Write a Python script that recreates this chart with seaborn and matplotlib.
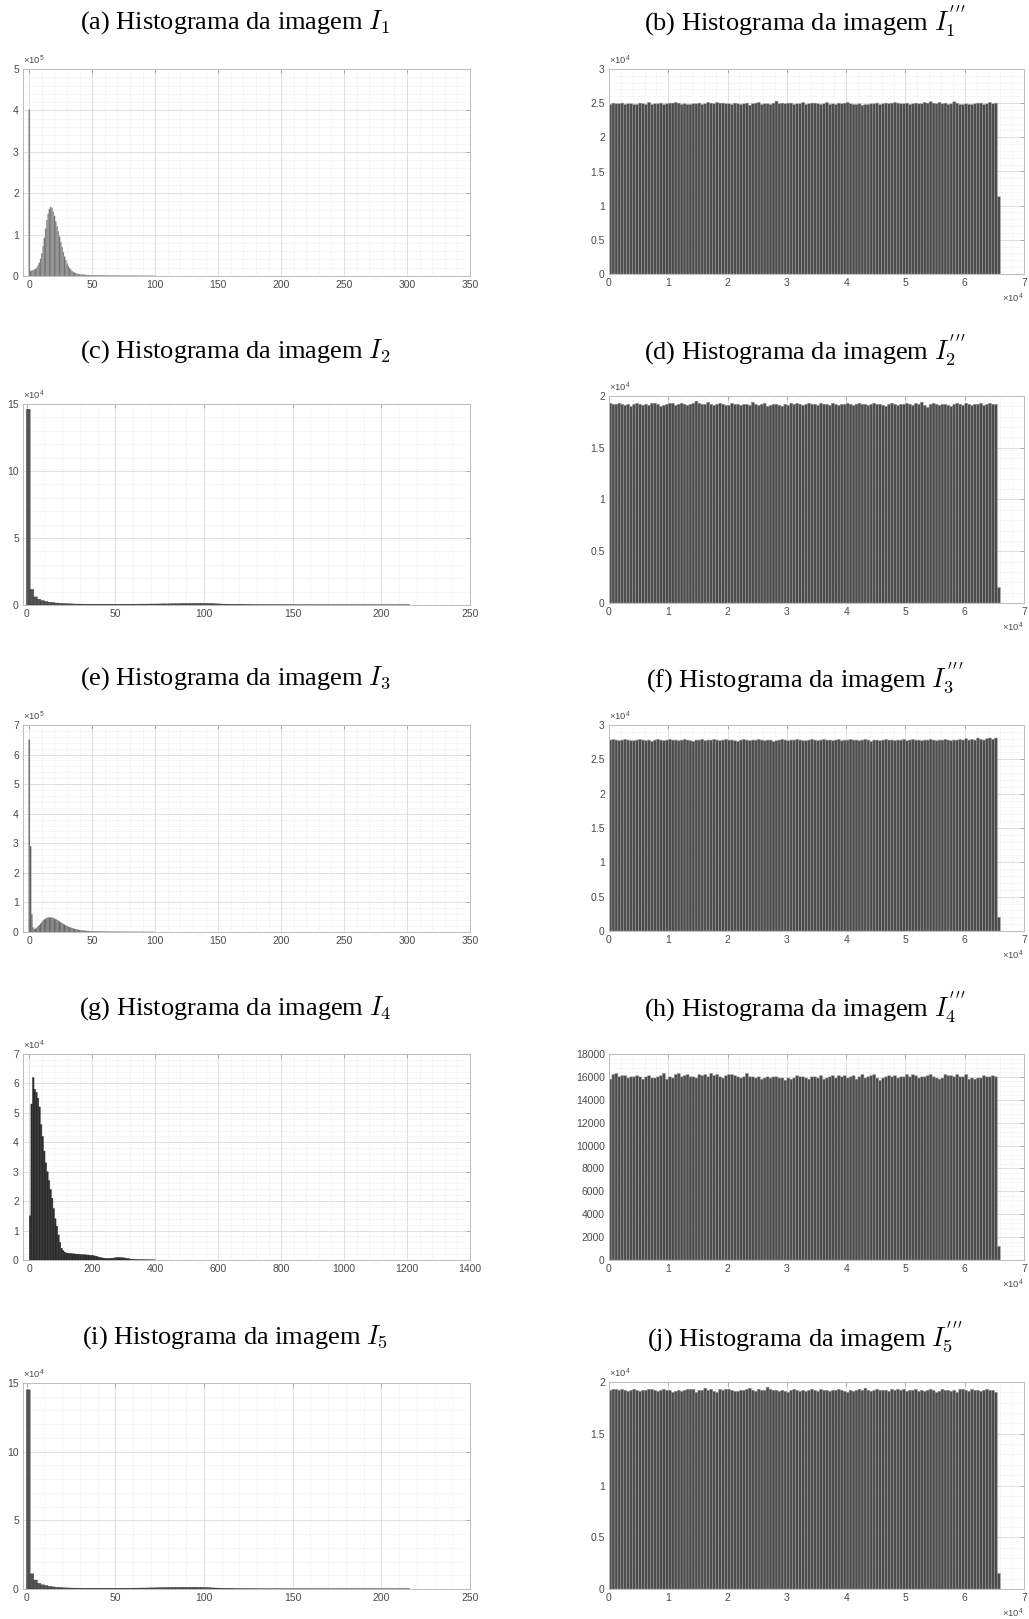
import numpy as np
import pandas as pd
import matplotlib
matplotlib.use("Agg")
import matplotlib.pyplot as plt
import seaborn as sns
from matplotlib.ticker import FuncFormatter, MultipleLocator, AutoMinorLocator

# ---------------- data ----------------
# (a) histogram of I1 : integer bins 0..100, counts in thousands
hist_a_k = [402,
            12, 13, 14, 15, 17, 20, 25, 32, 42, 55,
            72, 92, 115, 135, 150, 162, 167, 164, 155, 145,
            132, 120, 108, 95, 82, 70, 58, 47, 38, 30,
            24, 19, 15, 12, 9.5, 8, 6.5, 5.5, 4.8, 4.2,
            3.8, 3.4, 3.1, 2.8, 2.6, 2.4, 2.2, 2.0, 1.9, 1.8,
            1.7, 1.65, 1.6, 1.55, 1.5, 1.45, 1.4, 1.35, 1.3, 1.25,
            1.2, 1.15, 1.1, 1.05, 1.0, 0.95, 0.9, 0.88, 0.85, 0.82,
            0.8, 0.77, 0.74, 0.71, 0.68, 0.65, 0.62, 0.6, 0.58, 0.56,
            0.54, 0.52, 0.5, 0.48, 0.46, 0.44, 0.42, 0.4, 0.38, 0.36,
            0.34, 0.32, 0.3, 0.28, 0.26, 0.25, 0.24, 0.23, 0.22, 0.21]

# (c) histogram of I2 : bins of width 2 from 0, counts in thousands
hist_c_k = [146, 11.5, 6.0, 4.2, 3.2, 2.5, 2.0, 1.7, 1.4, 1.2,
            1.0, 0.9, 0.8, 0.7, 0.65, 0.6, 0.55, 0.5, 0.5, 0.45,
            0.45, 0.45, 0.4, 0.4, 0.4, 0.4, 0.4, 0.45, 0.45, 0.5,
            0.5, 0.55, 0.6, 0.6, 0.65, 0.7, 0.7, 0.75, 0.8, 0.8,
            0.85, 0.9, 0.9, 0.95, 1.0, 1.0, 1.05, 1.05, 1.1, 1.1,
            1.05, 1.0, 0.95, 0.85, 0.75, 0.6, 0.5, 0.4, 0.3, 0.25,
            0.2, 0.18, 0.15, 0.12, 0.1, 0.1, 0.09, 0.08, 0.08, 0.07,
            0.07, 0.06, 0.06, 0.05, 0.05, 0.05, 0.04, 0.04, 0.04, 0.04,
            0.03, 0.03, 0.03, 0.03, 0.03, 0.03, 0.03, 0.03, 0.03, 0.03,
            0.02, 0.02, 0.02, 0.02, 0.02, 0.02, 0.02, 0.02, 0.02, 0.02,
            0.02, 0.02, 0.02, 0.02, 0.02, 0.02, 0.02, 0.02]

# (e) histogram of I3 : integer bins 0..100, counts in thousands
hist_e_k = [650, 290, 60, 15, 10, 11, 14, 18, 23, 28,
            33, 38, 42, 45, 47, 48.5, 49, 49, 48.5, 47,
            45, 43, 40.5, 38, 35, 32, 29.5, 27, 24.5, 22,
            20, 18, 16, 14.5, 13, 11.5, 10.3, 9.2, 8.2, 7.3,
            6.5, 5.8, 5.2, 4.7, 4.2, 3.8, 3.4, 3.1, 2.8, 2.5,
            2.3, 2.1, 1.9, 1.75, 1.6, 1.5, 1.4, 1.3, 1.2, 1.1,
            1.0, 0.95, 0.9, 0.85, 0.8, 0.75, 0.7, 0.65, 0.6, 0.55,
            0.5, 0.48, 0.46, 0.44, 0.42, 0.4, 0.38, 0.36, 0.34, 0.32,
            0.3, 0.28, 0.26, 0.25, 0.24, 0.23, 0.22, 0.21, 0.2, 0.19,
            0.18, 0.17, 0.16, 0.15, 0.14, 0.13, 0.12, 0.11, 0.1, 0.1]

# (g) histogram of I4 : bins of width 5 from 0, counts in thousands
hist_g_k = [15, 53, 62, 58, 57, 55, 52, 46, 42, 37,
            33, 30, 27, 24, 21, 17.5, 14, 11.5, 8.5, 6,
            4, 3.2, 2.7, 2.4, 2.3, 2.2, 2.2, 2.1, 2.1, 2.0,
            2.0, 1.9, 1.9, 1.8, 1.8, 1.8, 1.7, 1.7, 1.6, 1.6,
            1.5, 1.4, 1.25, 1.1, 0.95, 0.8, 0.7, 0.6, 0.55, 0.5,
            0.5, 0.55, 0.6, 0.65, 0.75, 0.8, 0.85, 0.85, 0.8, 0.75,
            0.7, 0.6, 0.5, 0.4, 0.3, 0.25, 0.2, 0.15, 0.12, 0.1,
            0.09, 0.08, 0.07, 0.06, 0.05, 0.05, 0.04, 0.04, 0.03, 0.03]

# (i) histogram of I5 : bins of width 2 from 0, counts in thousands
hist_i_k = [145, 11, 6.5, 4.0, 3.0, 2.4, 1.9, 1.5, 1.2, 1.0,
            0.85, 0.75, 0.65, 0.55, 0.5, 0.45, 0.4, 0.4, 0.35, 0.35,
            0.35, 0.35, 0.35, 0.35, 0.4, 0.4, 0.4, 0.45, 0.45, 0.5,
            0.55, 0.6, 0.65, 0.7, 0.75, 0.8, 0.85, 0.9, 0.95, 1.0,
            1.0, 1.05, 1.05, 1.1, 1.1, 1.1, 1.15, 1.15, 1.1, 1.1,
            1.0, 0.9, 0.75, 0.6, 0.45, 0.35, 0.25, 0.2, 0.15, 0.12,
            0.1, 0.09, 0.08, 0.07, 0.06, 0.06, 0.05, 0.05, 0.04, 0.04,
            0.04, 0.04, 0.03, 0.03, 0.03, 0.03, 0.03, 0.03, 0.03, 0.03,
            0.02, 0.02, 0.02, 0.02, 0.02, 0.02, 0.02, 0.02, 0.02, 0.02,
            0.02, 0.02, 0.02, 0.02, 0.02, 0.02, 0.02, 0.02, 0.02, 0.02,
            0.02, 0.02, 0.02, 0.02, 0.02, 0.02, 0.02, 0.02]

# right column: 132 bins of width 500 over 0..66000, counts in hundreds
hist_b_h = [248, 250, 249, 249, 250, 248, 249, 249, 248, 248, 250, 249,
            248, 251, 248, 249, 249, 250, 248, 249, 250, 250, 251, 250,
            248, 249, 248, 248, 249, 249, 250, 248, 249, 251, 250, 249,
            251, 250, 250, 249, 249, 248, 250, 249, 248, 249, 250, 247,
            249, 250, 251, 248, 249, 249, 248, 250, 253, 249, 250, 249,
            250, 250, 248, 249, 249, 251, 248, 249, 250, 250, 249, 248,
            249, 251, 248, 249, 248, 250, 249, 250, 251, 249, 248, 248,
            249, 247, 248, 248, 249, 249, 250, 248, 249, 250, 249, 250,
            251, 250, 249, 249, 250, 248, 249, 250, 249, 249, 251, 250,
            252, 250, 249, 251, 249, 250, 248, 249, 252, 250, 248, 248,
            249, 248, 248, 249, 250, 250, 248, 249, 251, 249, 250, 113]

hist_d_h = [193, 192, 192, 193, 192, 191, 192, 190, 192, 193, 192, 191,
            192, 191, 193, 193, 192, 190, 191, 192, 193, 193, 191, 192,
            193, 192, 191, 192, 193, 195, 193, 192, 192, 194, 192, 191,
            192, 193, 192, 191, 191, 193, 192, 192, 191, 192, 192, 191,
            194, 192, 191, 192, 193, 190, 191, 192, 192, 191, 190, 192,
            191, 193, 192, 193, 192, 191, 192, 193, 192, 192, 191, 193,
            192, 192, 191, 193, 192, 191, 192, 192, 193, 192, 191, 192,
            193, 192, 192, 191, 192, 193, 192, 192, 191, 190, 192, 193,
            192, 191, 192, 192, 193, 192, 191, 193, 192, 194, 191, 189,
            192, 193, 192, 191, 192, 192, 191, 190, 192, 193, 192, 191,
            193, 192, 191, 192, 192, 193, 191, 192, 193, 192, 192, 15]

hist_f_h = [278, 279, 278, 277, 278, 279, 278, 277, 277, 278, 279, 278,
            277, 278, 276, 278, 279, 278, 277, 278, 279, 278, 278, 277,
            278, 279, 278, 277, 276, 278, 278, 279, 277, 278, 278, 279,
            278, 277, 278, 279, 278, 278, 277, 276, 278, 279, 278, 277,
            278, 278, 279, 278, 277, 278, 278, 276, 277, 278, 279, 278,
            277, 278, 278, 279, 278, 277, 277, 278, 279, 278, 277, 278,
            279, 278, 278, 277, 278, 279, 277, 278, 278, 279, 278, 278,
            277, 278, 279, 278, 276, 278, 278, 277, 278, 279, 278, 278,
            277, 278, 278, 279, 277, 278, 279, 278, 278, 277, 278, 278,
            279, 278, 277, 278, 278, 279, 278, 277, 278, 278, 279, 278,
            280, 278, 279, 278, 281, 279, 278, 280, 281, 279, 281, 20]

hist_h_h = [158, 162, 163, 160, 161, 161, 159, 160, 160, 161, 160, 158,
            160, 161, 159, 159, 160, 161, 163, 158, 160, 159, 162, 163,
            160, 161, 162, 160, 160, 159, 162, 161, 162, 160, 163, 161,
            162, 160, 159, 161, 162, 162, 161, 160, 159, 160, 163, 160,
            160, 159, 160, 158, 159, 160, 159, 160, 160, 159, 159, 157,
            159, 158, 159, 161, 160, 160, 159, 158, 160, 160, 159, 161,
            158, 159, 160, 161, 159, 161, 160, 161, 159, 160, 161, 158,
            160, 162, 159, 160, 161, 162, 159, 157, 159, 160, 161, 160,
            161, 159, 160, 160, 162, 160, 162, 161, 159, 160, 160, 161,
            162, 160, 159, 158, 159, 162, 161, 161, 160, 162, 160, 160,
            162, 158, 159, 158, 159, 159, 161, 160, 160, 161, 160, 12]

hist_j_h = [192, 193, 193, 192, 193, 192, 191, 192, 193, 192, 191, 192,
            192, 193, 193, 192, 191, 192, 193, 192, 192, 190, 191, 192,
            191, 192, 193, 193, 193, 190, 192, 192, 194, 192, 193, 191,
            190, 193, 192, 193, 193, 192, 191, 191, 192, 192, 193, 194,
            192, 191, 193, 192, 192, 195, 193, 192, 192, 191, 192, 191,
            190, 192, 193, 192, 191, 192, 191, 192, 193, 192, 191, 193,
            192, 192, 191, 192, 192, 193, 192, 191, 190, 192, 191, 192,
            193, 192, 194, 192, 191, 192, 193, 192, 192, 192, 191, 193,
            192, 193, 192, 193, 191, 192, 192, 193, 191, 192, 191, 192,
            193, 192, 190, 191, 193, 192, 192, 191, 192, 190, 193, 193,
            192, 191, 193, 192, 192, 191, 192, 193, 192, 192, 190, 15]

titles_left = [r"(a) Histograma da imagem $I_1$",
               r"(c) Histograma da imagem $I_2$",
               r"(e) Histograma da imagem $I_3$",
               r"(g) Histograma da imagem $I_4$",
               r"(i) Histograma da imagem $I_5$"]
titles_right = [r"(b) Histograma da imagem $I_1^{{}^{\prime\,\prime\,\prime}}$",
                r"(d) Histograma da imagem $I_2^{{}^{\prime\,\prime\,\prime}}$",
                r"(f) Histograma da imagem $I_3^{{}^{\prime\,\prime\,\prime}}$",
                r"(h) Histograma da imagem $I_4^{{}^{\prime\,\prime\,\prime}}$",
                r"(j) Histograma da imagem $I_5^{{}^{\prime\,\prime\,\prime}}$"]

# ---------------- style ----------------
sns.set_theme(style="white")
plt.rcParams["font.family"] = ["Liberation Sans", "DejaVu Sans"]
plt.rcParams["mathtext.fontset"] = "cm"

W, H = 1029, 1619
fig = plt.figure(figsize=(W / 100, H / 100), dpi=100)
fig.patch.set_facecolor("white")


def add_ax(l, t, r, b):
    return fig.add_axes([l / W, 1 - b / H, (r - l) / W, (b - t) / H])


TICK_COLOR = "#4a4a4a"


def draw(ax, edges, counts, face, edge, lw):
    edges = np.asarray(edges, dtype=float)
    centers = (edges[:-1] + edges[1:]) / 2
    df = pd.DataFrame({"valor": centers, "contagem": np.asarray(counts, dtype=float)})
    sns.histplot(data=df, x="valor", weights="contagem", bins=list(edges),
                 ax=ax, color=face, edgecolor=edge, linewidth=lw, alpha=1,
                 stat="count")
    for p in ax.patches:
        p.set_snap(False)
    ax.set_xlabel("")
    ax.set_ylabel("")


def style(ax, xlim, xstep, ylim, ystep, ymult, xmult=1, ysub=5, xsub=5):
    ax.set_xlim(*xlim)
    ax.set_ylim(*ylim)
    ax.xaxis.set_major_locator(MultipleLocator(xstep))
    ax.yaxis.set_major_locator(MultipleLocator(ystep))
    ax.xaxis.set_minor_locator(AutoMinorLocator(xsub))
    ax.yaxis.set_minor_locator(AutoMinorLocator(ysub))
    ax.xaxis.set_major_formatter(FuncFormatter(lambda v, p: f"{v / xmult:g}"))
    ax.yaxis.set_major_formatter(FuncFormatter(lambda v, p: f"{v / ymult:g}"))
    ax.set_axisbelow(True)
    ax.grid(True, which="major", color="#dadada", lw=0.6)
    ax.grid(True, which="minor", color="#e4e4e4", lw=0.5, ls=(0, (1, 1.5)))
    ax.tick_params(which="major", direction="in", length=3, width=0.6,
                   top=True, right=True, color="#a0a0a0",
                   labelsize=7.5, labelcolor=TICK_COLOR, pad=3)
    ax.tick_params(which="minor", length=0)
    for s in ax.spines.values():
        s.set_color("#bcbcbc")
        s.set_linewidth(0.7)
    ax.set_facecolor("white")


def yoffset(ax, exp):
    ax.text(0.0, 1.012, r"$\mathregular{\times10^{%d}}$" % exp, transform=ax.transAxes,
            ha="left", va="bottom", fontsize=6.8, color=TICK_COLOR)


def xoffset(ax, exp):
    ax.annotate(r"$\mathregular{\times10^{%d}}$" % exp, xy=(1.0, 0.0), xycoords="axes fraction",
                xytext=(0, -17.5), textcoords="offset points", ha="right", va="center",
                fontsize=6.8, color=TICK_COLOR)


LX0, LX1 = 23, 470
RX0, RX1 = 609, 1024
left_rows = [(69, 276), (404, 605), (725, 932), (1054, 1260), (1383, 1589)]
right_rows = [(69, 274), (396, 603), (725, 931), (1054, 1260), (1382, 1589)]
title_y = [22, 351, 678, 1008, 1337]

for k in range(5):
    fig.text(235 / W, 1 - title_y[k] / H, titles_left[k], ha="center", va="center",
             fontsize=19, family=["Liberation Serif", "DejaVu Serif"], color="black")
    fig.text(805 / W, 1 - title_y[k] / H, titles_right[k], ha="center", va="center",
             fontsize=19, family=["Liberation Serif", "DejaVu Serif"], color="black")

# ---- left column ----
ax = add_ax(LX0, left_rows[0][0], LX1, left_rows[0][1])
draw(ax, np.arange(len(hist_a_k) + 1) - 0.5, np.array(hist_a_k) * 1000, "#6e6e6e", "#a8a8a8", 0.25)
style(ax, (-5, 350), 50, (0, 5e5), 1e5, 1e5)
yoffset(ax, 5)

ax = add_ax(LX0, left_rows[1][0], LX1, left_rows[1][1])
draw(ax, np.arange(len(hist_c_k) + 1) * 2.0, np.array(hist_c_k) * 1000, "#555555", "#3a3a3a", 0.4)
style(ax, (-2, 250), 50, (0, 15e4), 5e4, 1e4)
yoffset(ax, 4)

ax = add_ax(LX0, left_rows[2][0], LX1, left_rows[2][1])
draw(ax, np.arange(len(hist_e_k) + 1) - 0.5, np.array(hist_e_k) * 1000, "#5e5e5e", "#999999", 0.25)
style(ax, (-5, 350), 50, (0, 7e5), 1e5, 1e5)
yoffset(ax, 5)

ax = add_ax(LX0, left_rows[3][0], LX1, left_rows[3][1])
draw(ax, np.arange(len(hist_g_k) + 1) * 5.0, np.array(hist_g_k) * 1000, "#2c2c2c", "#2c2c2c", 0.3)
style(ax, (-20, 1400), 200, (0, 7e4), 1e4, 1e4)
yoffset(ax, 4)

ax = add_ax(LX0, left_rows[4][0], LX1, left_rows[4][1])
draw(ax, np.arange(len(hist_i_k) + 1) * 2.0, np.array(hist_i_k) * 1000, "#555555", "#3a3a3a", 0.4)
style(ax, (-2, 250), 50, (0, 15e4), 5e4, 1e4)
yoffset(ax, 4)

# ---- right column ----
right_data = [(hist_b_h, (0, 3e4), 0.5e4, 1e4, True),
              (hist_d_h, (0, 2e4), 0.5e4, 1e4, True),
              (hist_f_h, (0, 3e4), 0.5e4, 1e4, True),
              (hist_h_h, (0, 18000), 2000, 1, False),
              (hist_j_h, (0, 2e4), 0.5e4, 1e4, True)]
for k, (vals, ylim, ystep, ymult, off) in enumerate(right_data):
    ax = add_ax(RX0, right_rows[k][0], RX1, right_rows[k][1])
    edges = np.arange(len(vals) + 1) * 500.0
    draw(ax, edges, np.array(vals) * 100, "#4c4c4c", "#9a9a9a", 0.35)
    style(ax, (0, 7e4), 1e4, ylim, ystep, ymult, xmult=1e4)
    if off:
        yoffset(ax, 4)
    xoffset(ax, 4)

fig.savefig("out.png", dpi=100, facecolor="white")
